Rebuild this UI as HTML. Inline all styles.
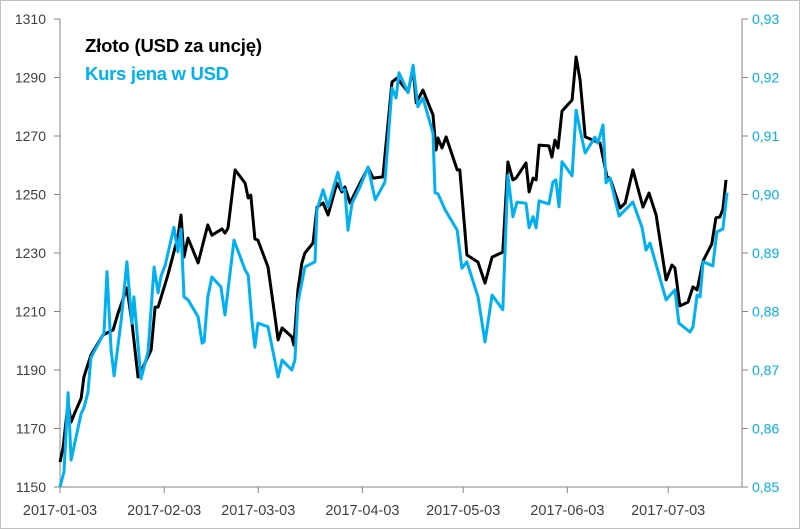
<!DOCTYPE html>
<html><head><meta charset="utf-8"><style>
body{margin:0;background:#fff;}
svg{display:block;font-family:"Liberation Sans",sans-serif;}
</style></head><body>
<svg id="chart" width="800" height="529" xmlns="http://www.w3.org/2000/svg">
<rect x="0.5" y="0.5" width="799" height="528" fill="#fff" stroke="#bfbfbf"/>
<g id="axes"></g>
<g id="series"></g>
<text x="85" y="52" font-size="18.5" font-weight="bold" fill="#000" textLength="177">Złoto (USD za uncję)</text>
<text x="85" y="80" font-size="18.5" font-weight="bold" fill="#00b0f0" textLength="144">Kurs jena w USD</text>
</svg>
<script>
const goldDays=[0,0.9,2.4,3.3,4.5,6.3,7.1,9.2,12.8,15.8,17.3,19.9,21.4,23.2,24.7,27.1,28.3,29.2,32.1,35.1,36,36.9,38.1,41.1,44,45.2,48.2,49.1,50,52.1,55.1,56,56.8,58,58.9,61.9,64,64.9,66.1,69,69.6,70.8,72,72.9,75.3,76.5,78.3,79.8,82.4,83.9,84.8,86.3,89.3,91.7,93.2,96.1,98.8,100.3,103.6,105.1,106,108,111,111.9,112.5,113.7,114.9,118.2,119,121.1,124.4,126.5,128.6,131.8,133.3,134.8,135.7,138.7,139.6,140.8,141.7,142.6,145.5,146.4,147.3,148.2,149.4,152.4,153.6,154.8,156.3,158.6,160.7,162.8,163.7,166.7,168.2,170.5,173.5,175.3,177.4,180.4,182.1,183,184.5,186.9,188.4,189.6,191.4,194,195.2,196.4,197.3,198.2];
const goldValues=[1158.5,1163.3,1178.7,1172.2,1175.6,1180.4,1187.6,1195.1,1202,1203.7,1209.5,1218,1206.4,1187.6,1191,1196.8,1211.5,1211.5,1222.5,1235.5,1243,1228.6,1235.1,1226.6,1239.6,1236.1,1238.2,1236.8,1238.5,1258.4,1253.9,1248.8,1249.8,1234.8,1234.4,1225.2,1208.1,1200.3,1204.4,1201.3,1198.5,1217.3,1226.6,1230,1233.4,1245.7,1247.1,1243,1253.9,1250.9,1252.6,1247.1,1253.9,1259.1,1255.6,1256,1288.5,1289.8,1285,1293.2,1281.3,1285.7,1277.2,1265.2,1269.3,1265.9,1269.7,1258.4,1258.4,1229.3,1226.9,1219.7,1228.6,1230.3,1261.1,1255,1255.6,1260.8,1250.9,1255.6,1255,1266.9,1266.6,1262.8,1268.6,1265.9,1278.5,1282.3,1297,1289.1,1269.7,1268.6,1267.6,1256,1255.6,1245.4,1247.1,1258.4,1245.7,1250.5,1243,1220.8,1225.9,1224.9,1211.9,1213.2,1218.4,1217.4,1227.3,1233.1,1242,1242.3,1245,1255];
const yenDays=[0,1.2,2.4,3.3,6.3,7.1,8.3,9.2,13.1,14,15.2,16.1,18.2,19.9,21.4,22,24.1,26.2,28,29.2,30.1,31.3,33.9,35.1,36,36.9,38.1,41.1,42.3,42.9,44,45.2,47.9,49.1,51.8,55.1,56,57.1,58,58.9,61.9,64.9,66.1,69,69.9,70.8,72.9,75.9,76.5,78.3,79.8,82.7,83.9,84.8,85.7,86.9,89.3,91.7,93.8,96.7,98.8,100,100.9,103.6,105.1,106.5,108,111,111.6,112.5,114.6,118.2,119.6,121.1,124.4,126.5,128.6,131.8,133.3,134.8,136,138.7,139.6,140.8,141.7,142.6,145.5,146.7,147.6,148.5,149.4,152.4,153.6,154.8,156.3,159.2,160.1,161.6,162.5,163.7,166.4,170.5,173.2,174.4,175.6,180.4,183,184.2,187.5,188.4,189.6,190.5,191.4,194.3,195.5,197.3,198.5];
const yenValues=[0.85,0.8526,0.8661,0.8546,0.8626,0.8635,0.8661,0.8721,0.8763,0.8868,0.8734,0.869,0.8785,0.8885,0.878,0.8825,0.8685,0.8731,0.8876,0.8832,0.8861,0.8879,0.8944,0.8902,0.8941,0.8825,0.882,0.8791,0.8746,0.8748,0.8825,0.8859,0.8842,0.8794,0.8922,0.8871,0.8862,0.8785,0.8739,0.878,0.8774,0.8688,0.8717,0.87,0.8717,0.8815,0.8876,0.8885,0.8974,0.9008,0.8979,0.9038,0.9008,0.9008,0.8939,0.8985,0.9013,0.9047,0.8991,0.9021,0.9182,0.9165,0.9208,0.9174,0.9221,0.915,0.9165,0.9105,0.9003,0.9001,0.8974,0.8939,0.8874,0.8885,0.8825,0.8748,0.8828,0.8803,0.9033,0.8962,0.8987,0.8985,0.8943,0.8962,0.8943,0.8989,0.8984,0.9021,0.9025,0.8979,0.9056,0.9032,0.9144,0.911,0.9071,0.9098,0.9088,0.9119,0.902,0.9028,0.8963,0.8987,0.8944,0.8905,0.8917,0.882,0.8837,0.878,0.8765,0.8774,0.8828,0.8825,0.8885,0.8878,0.8936,0.8941,0.9003];
const leftTicks=[1150,1170,1190,1210,1230,1250,1270,1290,1310];
const rightTicks=["0,85","0,86","0,87","0,88","0,89","0,90","0,91","0,92","0,93"];
const rightTickValues=[0.85,0.86,0.87,0.88,0.89,0.90,0.91,0.92,0.93];
const xTickDays=[0,31,59,90,120,151,181];
const xTickLabels=["2017-01-03","2017-02-03","2017-03-03","2017-04-03","2017-05-03","2017-06-03","2017-07-03"];

const NS="http://www.w3.org/2000/svg";
const L=60,R=742,T=19,B=487;
const xS=d=>L+d*3.36;
const yG=v=>B-(v-1150)/160*(B-T);
const yY=v=>B-(v-0.85)/0.08*(B-T);
function mk(tag,attrs,parent){const e=document.createElementNS(NS,tag);for(const k in attrs)e.setAttribute(k,attrs[k]);parent.appendChild(e);return e;}
const ax=document.getElementById('axes'),se=document.getElementById('series');
let e;
e=mk('line',{x1:L,y1:T,x2:L,y2:B,stroke:'#868686','stroke-width':1},ax);


e=mk('line',{x1:R,y1:T,x2:R,y2:B,stroke:'#868686','stroke-width':1},ax);


e=mk('line',{x1:L,y1:B,x2:R,y2:B,stroke:'#868686','stroke-width':1},ax);


leftTicks.forEach(v=>{
  const y=yG(v);
  mk('line',{x1:L-6,y1:y,x2:L,y2:y,stroke:'#868686'},ax);
  e=mk('text',{x:L-14,y:y+5,'text-anchor':'end','font-size':14,fill:'#404040'},ax);
  e.textContent=v;
  
  
});
rightTickValues.forEach((v,i)=>{
  const y=yY(v);
  mk('line',{x1:R,y1:y,x2:R+6,y2:y,stroke:'#868686'},ax);
  e=mk('text',{x:R+10,y:y+5,'font-size':14,fill:'#00b0f0'},ax);
  e.textContent=rightTicks[i];
  
  
});
xTickDays.forEach((d,i)=>{
  const x=xS(d);
  mk('line',{x1:x,y1:B,x2:x,y2:B+6,stroke:'#868686'},ax);
  e=mk('text',{x:x,y:515,'text-anchor':'middle','font-size':14.5,fill:'#404040'},ax);
  e.textContent=xTickLabels[i];
  
  
});
function path(days,vals,yf){return days.map((d,i)=>(i?'L':'M')+xS(d).toFixed(1)+','+yf(vals[i]).toFixed(1)).join('');}
e=mk('path',{d:path(goldDays,goldValues,yG),fill:'none',stroke:'#000','stroke-width':3,'stroke-linejoin':'round'},se);


e=mk('path',{d:path(yenDays,yenValues,yY),fill:'none',stroke:'#00b0f0','stroke-width':3,'stroke-linejoin':'round'},se);


</script>
</body></html>
